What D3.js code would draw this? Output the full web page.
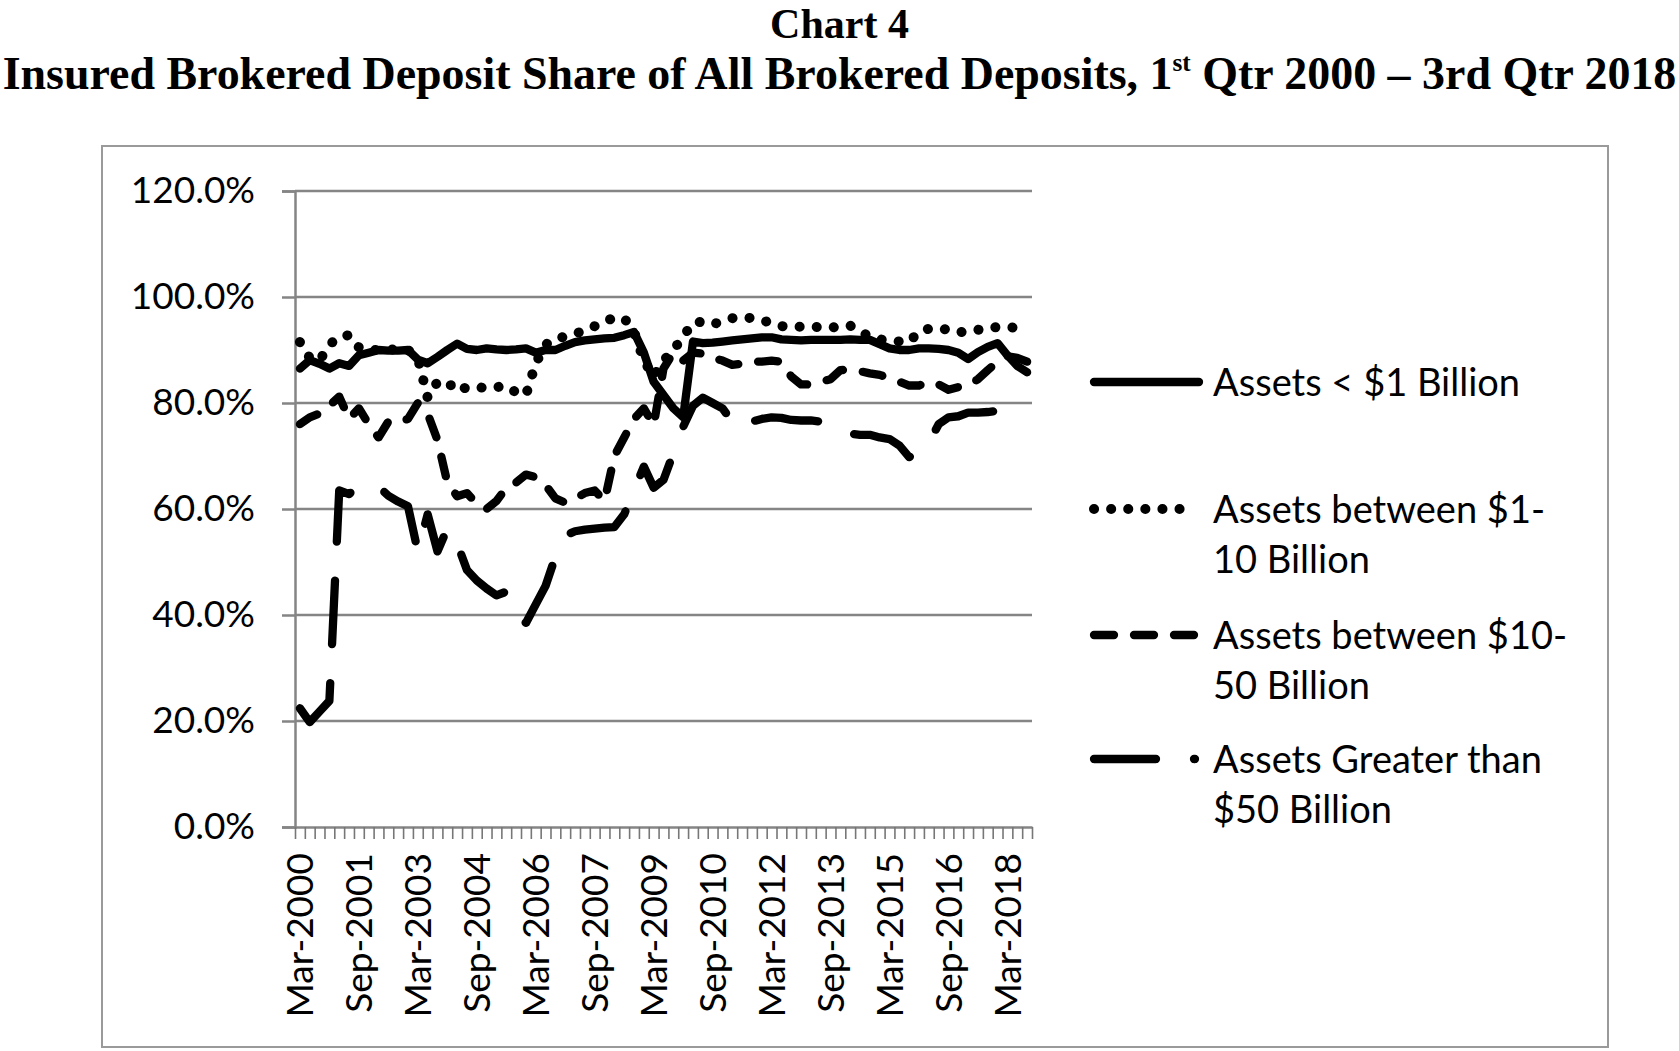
<!DOCTYPE html>
<html>
<head>
<meta charset="utf-8">
<script src="https://cdn.jsdelivr.net/npm/d3@7"></script>
<style>
  body { margin: 0; background: #fff; }
  svg { display: block; }
  .tick text { font-family: Lato, "Open Sans", sans-serif; }
</style>
</head>
<body>
<svg id="chart"></svg>
<script>
// Quarterly categories, Mar-2000 .. Sep-2018
const years = d3.range(2000, 2019);
const months = ["Mar", "Jun", "Sep", "Dec"];
const categories = [];
years.forEach(yr => months.forEach(m => categories.push(m + "-" + yr)));
categories.splice(75); // ends Sep-2018

const tickLabels = ["Mar-2000", "Sep-2001", "Mar-2003", "Sep-2004", "Mar-2006", "Sep-2007",
  "Mar-2009", "Sep-2010", "Mar-2012", "Sep-2013", "Mar-2015", "Sep-2016", "Mar-2018"];

const yTicks = [0, 20, 40, 60, 80, 100, 120];

// Series values (percent)
const under1B = [
  86.5, 88.1, 87.4, 86.5, 87.5, 87, 89, 89.5, 90, 89.9,
  89.9, 90, 88.2, 87.5, 88.7, 90, 91.2, 90.2, 90, 90.3,
  90.1, 90, 90.1, 90.3, 89.5, 90, 90, 90.8, 91.5, 91.8,
  92, 92.2, 92.3, 92.8, 93.4, 89.5, 84, 81.5, 79, 77.3,
  91.6, 91.3, 91.4, 91.6, 91.8, 92, 92.2, 92.4, 92.4, 92,
  91.9, 91.8, 91.9, 91.9, 91.9, 91.9, 92, 91.9, 91.9, 91.1,
  90.3, 90, 90, 90.3, 90.3, 90.2, 90, 89.5, 88.3, 89.6,
  90.6, 91.3, 89, 87, 85.8
];
const between1and10B = [
  91.5, 88.5, 88, 91, 92.5, 92.8, 90.5, 90, 90, 90,
  90.2, 90, 88.5, 81, 84, 84, 82.2, 83, 83, 82.8,
  83, 83.2, 82, 81.5, 87.5, 91, 92.2, 92.5, 93, 93.8,
  94.5, 95.5, 96, 96, 93.5, 88, 85, 88, 90, 92.5,
  95.2, 95.3, 94.8, 95.5, 96, 96.2, 96, 95.7, 95, 94.5,
  94.4, 94.4, 94.4, 94.3, 94.2, 94.5, 94.6, 93.5, 92.5, 92,
  91.8, 91.6, 91.5, 93.5, 94, 94.1, 93.8, 93.3, 93.6, 93.8,
  94.2, 94.3, 94.3, 94.2, 94
];
const between10and50B = [
  76, 77.3, 78, 79.5, 81.2, 77, 79, 76, 73.5, 76.5,
  76.3, 77, 80, 78, 73, 65, 62.4, 63, 61, 60,
  61.5, 64, 65, 66.5, 66, 64.5, 62, 61.2, 62, 63,
  63.5, 61.5, 70, 73.5, 77, 79, 75.8, 86.5, 89.5, 88,
  89.5, 89.3, 88.5, 88, 87.2, 87.4, 87.8, 87.8, 88, 87.8,
  85, 83.5, 83.5, 84, 84.5, 86.2, 86.3, 86, 85.6, 85.3,
  84.7, 84, 83.3, 83.3, 84, 83.5, 82.5, 83, 83.3, 84.5,
  86.2, 87.8, 88.8, 88.5, 87.8
];
const over50B = [
  22.4, 19.8, 21.8, 23.8, 63.5, 62.8, 64.5, 64.5, 64.2, 62.5,
  61.4, 60.5, 52, 59, 52, 56.3, 53.5, 48.5, 46.5, 45,
  43.7, 44.4, 40.7, 38.5, 42, 45.5, 51, 55, 55.8, 56.1,
  56.3, 56.5, 56.6, 59, 63.5, 68, 64, 65.5, 70.5, 75.5,
  79.5, 81, 80, 79, 76.5, 75, 76.5, 77, 77.3, 77.2,
  76.8, 76.7, 76.7, 76.5, 75.8, 74.5, 74.2, 74, 74, 73.5,
  73.2, 72, 69.8, 70.5, 72.5, 76, 77.3, 77.5, 78.2, 78.2,
  78.3, 78.5, 78.5, 78.5, 78.5
];

const legendLines = [["Assets < $1 Billion"], ["Assets between $1-", "10 Billion"],
  ["Assets between $10-", "50 Billion"], ["Assets Greater than", "$50 Billion"]];

const width = 1679, height = 1051;
const plot = { left: 295, right: 1032, top: 191, bottom: 827 };
const lineW = 8.3;
const font = "Lato, 'Open Sans', sans-serif";

const svg = d3.select("#chart").attr("width", width).attr("height", height);
svg.append("rect").attr("width", width).attr("height", height).attr("fill", "#fff");

// Title
const title = svg.append("g")
  .attr("font-family", "'Liberation Serif', 'Times New Roman', serif")
  .attr("font-weight", "bold")
  .attr("text-anchor", "middle")
  .attr("fill", "#000");
const t2 = title.append("text").attr("x", width / 2).attr("y", 89);
t2.append("tspan").text("Insured Brokered Deposit Share of All Brokered Deposits, 1");
t2.append("tspan").attr("dy", -18).attr("font-size", "0.55em").text("st");
t2.append("tspan").attr("dy", 18).text(" Qtr 2000 \u2013 3rd Qtr 2018");
t2.attr("font-size", 45);
const len = t2.node().getComputedTextLength();
t2.attr("font-size", 45 * 1674 / len);
title.append("text").attr("x", width / 2).attr("y", 38).attr("font-size", 42).text("Chart 4");

// Outer chart frame
svg.append("rect")
  .attr("x", 102).attr("y", 146).attr("width", 1506).attr("height", 901)
  .attr("fill", "none").attr("stroke", "#9a9a9a").attr("stroke-width", 2);

// Scales
const x = d3.scaleBand().domain(categories).range([plot.left, plot.right]).padding(0);
const xIdx = d3.scaleLinear().domain([0, categories.length]).range([plot.left, plot.right]);
const y = d3.scaleLinear().domain([0, 120]).range([plot.bottom, plot.top]);
const cx = d => x(d) + x.bandwidth() / 2;

// Gridlines
svg.append("g").selectAll("line")
  .data(yTicks.filter(d => d > 0))
  .enter().append("line")
  .attr("x1", plot.left).attr("x2", plot.right)
  .attr("y1", d => y(d)).attr("y2", d => y(d))
  .attr("stroke", "#858585").attr("stroke-width", 2.5);

// Y axis
const yAxis = svg.append("g")
  .attr("transform", `translate(${plot.left},0)`)
  .call(d3.axisLeft(y).tickValues(yTicks).tickSize(13).tickPadding(27)
    .tickFormat(d => d.toFixed(1) + "%"));
yAxis.select(".domain").attr("stroke", "#858585").attr("stroke-width", 2.5);
yAxis.selectAll(".tick line").attr("stroke", "#858585").attr("stroke-width", 2.5);
yAxis.selectAll(".tick text").attr("font-size", 37).attr("fill", "#000");

// X axis: category boundary ticks
const xTicks = svg.append("g")
  .attr("transform", `translate(0,${plot.bottom})`)
  .call(d3.axisBottom(xIdx).tickValues(d3.range(categories.length + 1))
    .tickSize(12).tickSizeOuter(0).tickFormat(""));
xTicks.select(".domain").attr("stroke", "#858585").attr("stroke-width", 2.5);
xTicks.selectAll(".tick line").attr("stroke", "#777").attr("stroke-width", 1.6);

// X axis labels (rotated)
const xLab = svg.append("g")
  .attr("transform", `translate(0,${plot.bottom})`)
  .call(d3.axisBottom(x).tickValues(tickLabels).tickSize(0).tickPadding(0));
xLab.select(".domain").remove();
xLab.selectAll(".tick text")
  .attr("font-size", 37).attr("fill", "#000")
  .attr("text-anchor", "end")
  .attr("transform", "translate(0,26) rotate(-90)")
  .attr("x", 0).attr("y", 0).attr("dy", "0.36em");

// Line styles
const styles = [
  { data: under1B, dash: null, w: lineW },
  { data: between1and10B, dash: "0.1 17", w: 10 },
  { data: between10and50B, dash: "20 20", w: lineW },
  { data: over50B, dash: "62 38", w: lineW }
];

const line = d3.line()
  .x((d, i) => cx(categories[i]))
  .y(d => y(d));

const paths = svg.append("g").selectAll("path")
  .data(styles)
  .enter().append("path")
  .attr("d", s => line(s.data))
  .attr("fill", "none")
  .attr("stroke", "#000")
  .attr("stroke-width", s => s.w)
  .attr("stroke-linecap", "round")
  .attr("stroke-linejoin", "round")
  .attr("stroke-dasharray", s => s.dash);

// long dash series: stretch the period slightly so the line ends inside a gap
const ld = paths.filter((s, k) => k === 3).node();
const L = ld.getTotalLength();
const n = Math.round((L - 34) / 100 - 0.62);
const P = (L - 34) / (n + 0.62);
d3.select(ld).attr("stroke-dasharray", `${0.62 * P} ${0.38 * P}`);

// Legend
const legendY = [382, 509, 635, 759];
const sampleLen = [105, 94, 105, 101];
const legend = svg.append("g").attr("font-family", font).attr("font-size", 38);
styles.forEach((s, k) => {
  legend.append("line")
    .attr("x1", 1094).attr("x2", 1094 + sampleLen[k])
    .attr("y1", legendY[k]).attr("y2", legendY[k])
    .attr("stroke", "#000").attr("stroke-width", s.w)
    .attr("stroke-linecap", "round")
    .attr("stroke-dasharray", s.dash);
  const txt = legend.append("text").attr("x", 1213).attr("y", legendY[k]);
  legendLines[k].forEach((ln, j) => {
    txt.append("tspan").attr("x", 1213).attr("dy", j === 0 ? "0.36em" : 50).text(ln);
  });
});
</script>
</body>
</html>
